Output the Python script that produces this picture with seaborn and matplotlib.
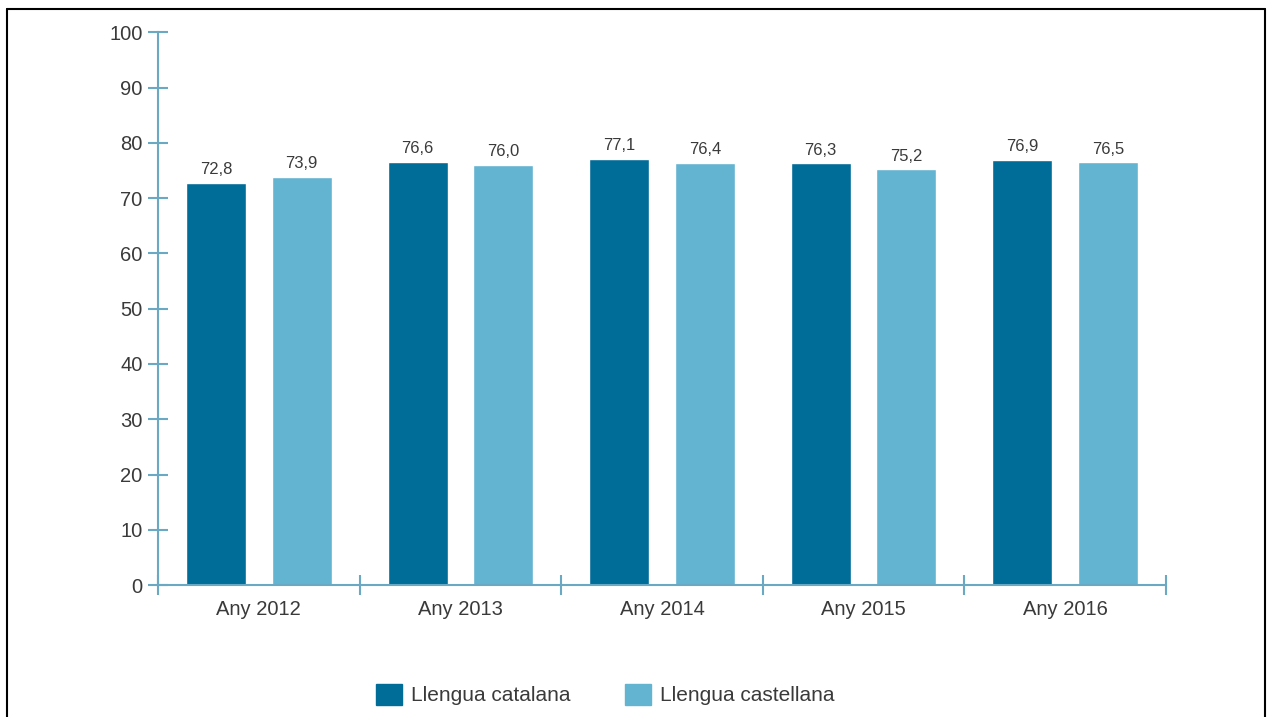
import matplotlib
matplotlib.use("Agg")
import matplotlib.pyplot as plt
import seaborn as sns
import pandas as pd
from matplotlib.lines import Line2D

years = ["Any 2012", "Any 2013", "Any 2014", "Any 2015", "Any 2016"]
catalana = [72.8, 76.6, 77.1, 76.3, 76.9]
castellana = [73.9, 76.0, 76.4, 75.2, 76.5]
series_names = ["Llengua catalana", "Llengua castellana"]
yticks = [0, 10, 20, 30, 40, 50, 60, 70, 80, 90, 100]

df = pd.DataFrame({
    "year": years * 2,
    "value": catalana + castellana,
    "serie": [series_names[0]] * len(years) + [series_names[1]] * len(years),
})

sns.set_style("white")
plt.rcParams["font.family"] = ["Liberation Sans", "DejaVu Sans"]

axis_col = "#6aa8c3"
text_col = "#3a3a3a"
palette = {series_names[0]: "#006c98", series_names[1]: "#63b4d1"}

fig = plt.figure(figsize=(12.69, 7.17), dpi=100)
ax = fig.add_axes([0.1245, 0.184, 0.7943, 0.771])

sns.barplot(data=df, x="year", y="value", hue="serie", palette=palette,
            width=0.85, gap=0.30, ax=ax, legend=False, saturation=1)

for cont, vals in zip(ax.containers, [catalana, castellana]):
    ax.bar_label(cont, labels=[f"{v:.1f}".replace(".", ",") for v in vals],
                 padding=4, fontsize=12, color=text_col)

ax.set_ylim(0, 100)
ax.set_xlim(-0.5, len(years) - 0.5)
ax.set_yticks(yticks)
ax.set_xlabel("")
ax.set_ylabel("")
for s in ["top", "right"]:
    ax.spines[s].set_visible(False)
for s in ["left", "bottom"]:
    ax.spines[s].set_color(axis_col)
    ax.spines[s].set_linewidth(1.5)

ax.tick_params(axis="y", direction="inout", length=14, width=1.5, color=axis_col,
               labelsize=14.5, labelcolor=text_col, pad=4, left=True)
ax.set_xticks(range(len(years)))
ax.set_xticklabels(years)
ax.tick_params(axis="x", which="major", length=0, labelsize=14.5, labelcolor=text_col, pad=11)
ax.set_xticks([i - 0.5 for i in range(len(years) + 1)], minor=True)
ax.tick_params(axis="x", which="minor", direction="inout", length=15, width=1.5,
               color=axis_col, bottom=True)

handles = [plt.Rectangle((0, 0), 1, 1, color=palette[n]) for n in series_names]
fig.legend(handles, series_names, loc="center", bbox_to_anchor=(0.477, 0.031),
           ncol=2, frameon=False, fontsize=15, handlelength=1.25, handleheight=1.15,
           handletextpad=0.43, columnspacing=2.6, labelcolor=text_col)

# frame around the chart
fig.add_artist(Line2D([0.0055, 0.0055], [0, 0.9875], color="black", lw=1.5, transform=fig.transFigure))
fig.add_artist(Line2D([0.0055, 0.997], [0.9875, 0.9875], color="black", lw=1.5, transform=fig.transFigure))
fig.add_artist(Line2D([0.997, 0.997], [0, 0.9875], color="black", lw=1.5, transform=fig.transFigure))

fig.savefig("out.png", dpi=100)
